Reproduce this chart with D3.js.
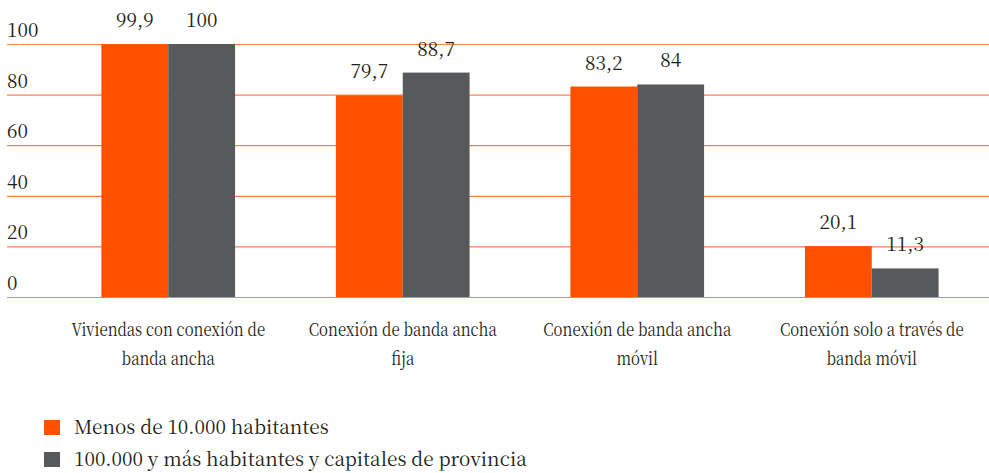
<!DOCTYPE html>
<html><head><meta charset="utf-8">
<script src="https://cdn.jsdelivr.net/npm/d3@7"></script>
</head>
<body style="margin:0;background:#fff">
<svg id="chart" width="989" height="473" style="display:block"></svg>
<script>
const categories = [
  ["Viviendas con conexión de", "banda ancha"],
  ["Conexión de banda ancha", "fija"],
  ["Conexión de banda ancha", "móvil"],
  ["Conexión solo a través de", "banda móvil"]
];
const seriesNames = ["Menos de 10.000 habitantes", "100.000 y más habitantes y capitales de provincia"];
const seriesSmall = [99.9, 79.7, 83.2, 20.1];
const seriesLarge = [100, 88.7, 84, 11.3];
const yTicks = [0, 20, 40, 60, 80, 100];
const colors = ["#ff5000", "#58595b"];

const FONT = "'Noto Serif CJK SC', 'Liberation Serif', monospace";
const TXT = "#231f20";
const svg = d3.select("#chart");
const fs = 19;
const y = d3.scaleLinear().domain([0, 100]).range([297, 44]);
const x0 = d3.scaleBand().domain(d3.range(categories.length)).range([51, 989]).paddingInner(0.43).paddingOuter(0.215);
const x1 = d3.scaleBand().domain([0, 1]).range([0, x0.bandwidth()]);
const fmt = v => String(v).replace(".", ",");

// gridlines
const yAxis = d3.axisLeft(y).tickValues(yTicks).tickSize(-982).tickFormat("");
const ga = svg.append("g").attr("transform", "translate(7,0)").call(yAxis);
ga.select(".domain").remove();
ga.selectAll(".tick line").attr("stroke", "#fa8050").attr("stroke-width", 1.2);

// y tick labels
svg.append("g").selectAll("text").data(yTicks).join("text")
  .attr("x", 7).attr("y", d => y(d) - 7)
  .style("font-family", FONT)
  .attr("font-size", fs).attr("fill", TXT)
  .text(d => d);

const data = categories.map((c, i) => [seriesSmall[i], seriesLarge[i]]);
const groups = svg.append("g").selectAll("g").data(data).join("g")
  .attr("transform", (d, i) => `translate(${x0(i)},0)`);
groups.selectAll("rect").data(d => d).join("rect")
  .attr("x", (d, j) => x1(j)).attr("width", x1.bandwidth())
  .attr("y", d => y(d)).attr("height", d => y(0) - y(d))
  .attr("fill", (d, j) => colors[j]);
groups.selectAll("text.val").data(d => d).join("text").attr("class", "val")
  .attr("x", (d, j) => x1(j) + x1.bandwidth() / 2).attr("y", d => y(d) - 17)
  .style("font-family", FONT)
  .attr("text-anchor", "middle").attr("font-size", fs).attr("fill", TXT)
  .text(d => fmt(d));

// category labels (condensed look)
const cl = svg.append("g").selectAll("text").data(categories).join("text")
  .attr("transform", (d, i) => `translate(${x0(i) + x0.bandwidth() / 2},0) scale(0.83,1)`)
  .style("font-family", FONT)
  .attr("text-anchor", "middle").attr("font-size", 18).attr("fill", TXT);
cl.selectAll("tspan").data(d => d).join("tspan")
  .attr("x", 0)
  .attr("y", (d, k) => 336 + k * 29)
  .text(d => d);

// legend
const lg = svg.append("g").selectAll("g").data(seriesNames).join("g")
  .attr("transform", (d, i) => `translate(44,${420 + i * 32})`);
lg.append("rect").attr("width", 16).attr("height", 15).attr("fill", (d, i) => colors[i]);
lg.append("text").attr("x", 30).attr("y", 14).style("font-family", FONT)
  .attr("font-size", fs).attr("fill", TXT).text(d => d);
</script>
</body></html>
